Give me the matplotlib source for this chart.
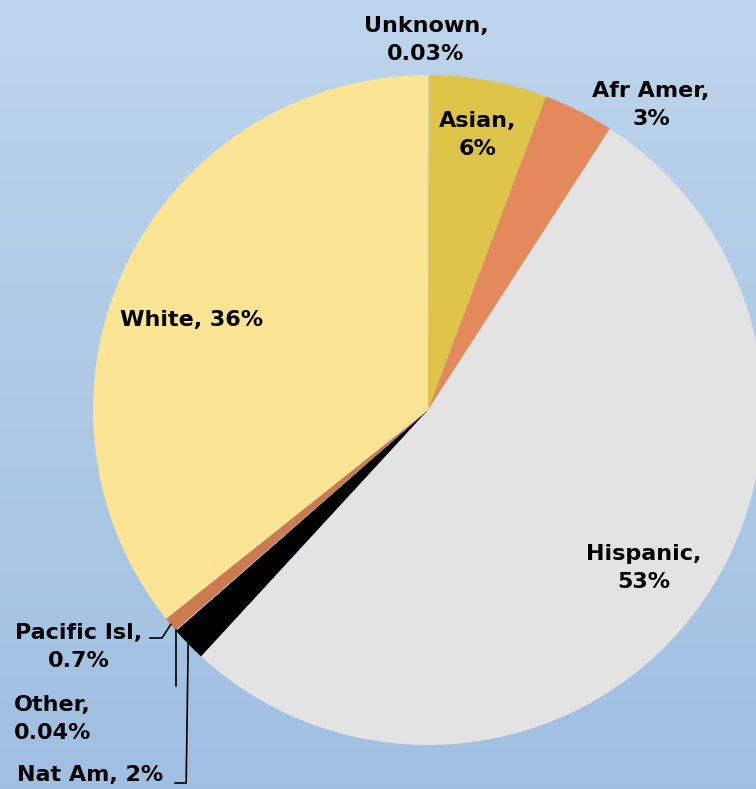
import numpy as np
import matplotlib
matplotlib.use("Agg")
import matplotlib.pyplot as plt

# data, clockwise from 12 o'clock
groups = ["Unknown", "Asian", "Afr Amer", "Hispanic", "Nat Am", "Other", "Pacific Isl", "White"]
shares = [0.03, 5.7, 3.4, 52.7, 1.7, 0.04, 0.7, 35.7]
labels = ["Unknown,\n0.03%", "Asian,\n6%", "Afr Amer,\n3%", "Hispanic,\n53%",
          "Nat Am, 2%", "Other,\n0.04%", "Pacific Isl,\n0.7%", "White, 36%"]
colors = ["#e9e9e9", "#dfc44a", "#e4895c", "#e3e3e3", "#000000", "#cfcfcf", "#cd7a50", "#fbe595"]

W, H = 756, 789
fig = plt.figure(figsize=(W / 100, H / 100), dpi=100)

# background gradient
bg = fig.add_axes([0, 0, 1, 1])
grad = np.linspace(0, 1, 200)[:, None]
top = np.array([0.741, 0.835, 0.925])
bot = np.array([0.627, 0.749, 0.886])
img = top + (bot - top) * grad[..., None]
img = np.repeat(img, 2, axis=1)
bg.imshow(img, aspect="auto", extent=[0, 1, 0, 1])
bg.axis("off")

ax = fig.add_axes([0, 0, 1, 1])
cx, cy, r = 428, H - 410, 335
wedges, _ = ax.pie(shares, colors=colors, startangle=90, counterclock=False,
                   center=(cx, cy), radius=r, frame=True,
                   wedgeprops=dict(linewidth=0))
ax.set_xlim(0, W)
ax.set_ylim(0, H)
ax.set_aspect("equal")
ax.axis("off")

font = dict(fontsize=16, fontweight="bold", family="DejaVu Sans", color="#000000",
            linespacing=1.55)

# label positions (pixel coordinates from the top)
pos = {
    "Unknown": (426, 40, "center"),
    "Asian": (478, 135, "center"),
    "Afr Amer": (651, 105, "center"),
    "Hispanic": (644, 568, "center"),
    "Nat Am": (17, 775, "left"),
    "Other": (14, 719, "left"),
    "Pacific Isl": (79, 647, "center"),
    "White": (192, 320, "center"),
}
for g, lab in zip(groups, labels):
    x, y, ha = pos[g]
    ax.text(x, H - y, lab, ha=ha, va="center", multialignment="center", **font)


def edge_point(i):
    w = wedges[i]
    ang = np.deg2rad((w.theta1 + w.theta2) / 2)
    return cx + r * np.cos(ang), cy + r * np.sin(ang)


# leader lines
px, py = edge_point(groups.index("Pacific Isl"))
ax.plot([150, 162, px], [H - 638, H - 638, py], color="black", lw=1.2)
ox, oy = edge_point(groups.index("Other"))
ax.plot([ox, ox], [oy, H - 686], color="black", lw=1.2)
nx, ny = edge_point(groups.index("Nat Am"))
ax.plot([nx, nx - 2, 175], [ny, H - 783, H - 783], color="black", lw=1.2)

fig.savefig("out.png", dpi=100)
